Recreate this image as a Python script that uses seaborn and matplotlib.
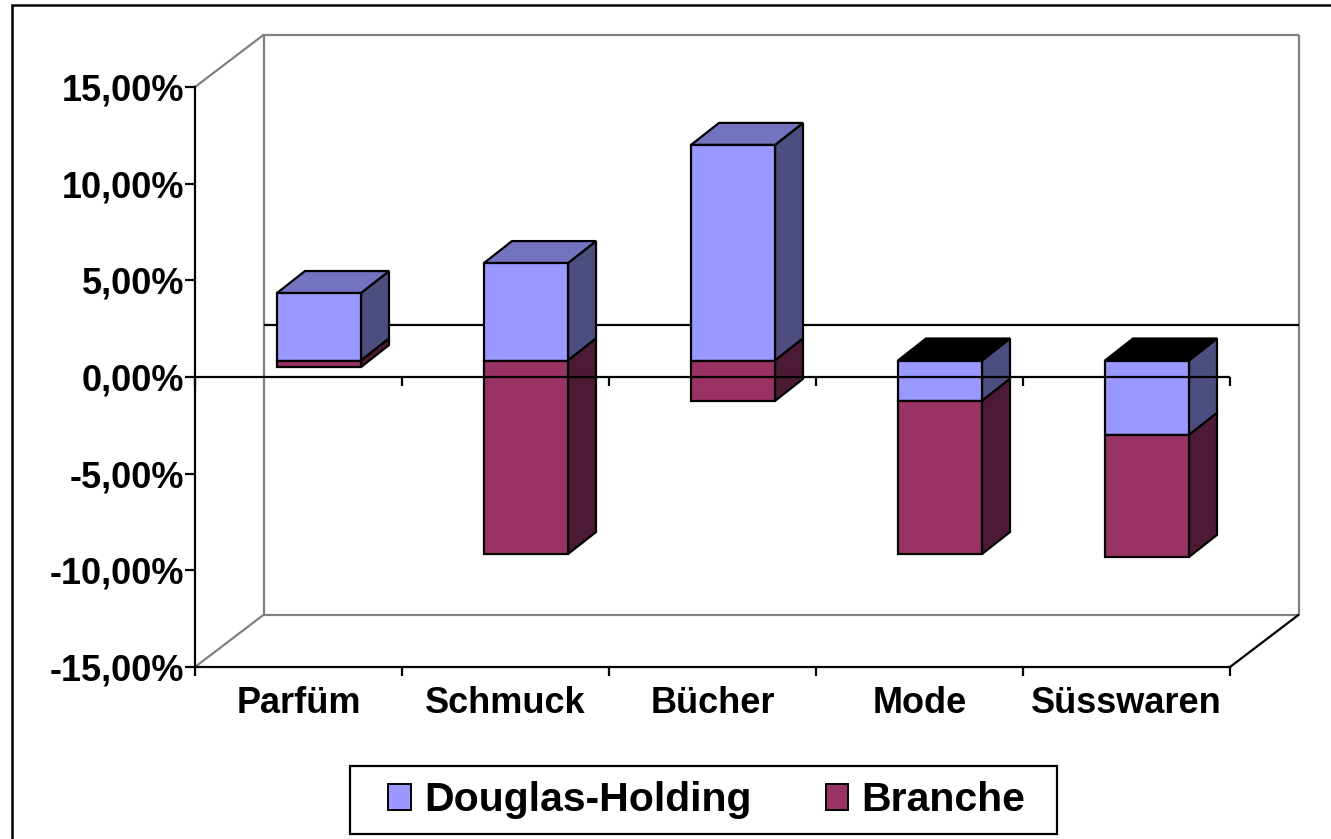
import numpy as np
import pandas as pd
import matplotlib
matplotlib.use("Agg")
import matplotlib.pyplot as plt
import matplotlib.transforms as mtransforms
from matplotlib.patches import Polygon, Patch, Rectangle
from matplotlib.ticker import FixedLocator, FuncFormatter
import seaborn as sns

# ---------------- data ----------------
categories = ["Parfüm", "Schmuck", "Bücher", "Mode", "Süsswaren"]
douglas = [3.49, 5.04, 11.15, -2.09, -3.85]      # %
branche = [-0.34, -10.01, -2.09, -7.92, -6.31]   # %
series_names = ["Douglas-Holding", "Branche"]
y_ticks = [-15, -10, -5, 0, 5, 10, 15]

# ---------------- style ----------------
sns.set_style("white")
plt.rcParams["font.family"] = ["Liberation Sans", "DejaVu Sans"]
plt.rcParams["font.weight"] = "bold"
plt.rcParams["text.color"] = "black"

col_front = {"Douglas-Holding": "#9999FF", "Branche": "#993366"}
col_side = {"Douglas-Holding": "#4D4D80", "Branche": "#4D1A33"}
col_top = {"Douglas-Holding": "#7373BF", "Branche": "#732650"}

W, H = 1331, 839
fig = plt.figure(figsize=(W / 100, H / 100), dpi=100)
# front plane of the 3-D box in pixels
L, R, T, B = 195, 1230, 87, 667
ax = fig.add_axes([L / W, 1 - B / H, (R - L) / W, (B - T) / H])
ax.set_xlim(-0.5, len(categories) - 0.5)
ax.set_ylim(-15, 15)

px_x = (R - L) / len(categories)   # pixels per category unit
px_y = (B - T) / 30.0              # pixels per percent

# depth offsets (pixels -> data units)
wall_dx, wall_dy = 69 / px_x, 52.5 / px_y
front_dx_px, front_dy_px = 20.5, 16.5
fdx, fdy = front_dx_px / px_x, front_dy_px / px_y
bdx, bdy = 28 / px_x, 22 / px_y
bar_w = 84 / px_x

# ---------------- stacking ----------------
d = np.array(douglas)
b = np.array(branche)
d_bottom = np.zeros_like(d)
b_bottom = np.where(np.sign(b) == np.sign(d), d, 0.0)

df_d = pd.DataFrame({"cat": categories, "val": d})
df_b = pd.DataFrame({"cat": categories, "val": b})

# ---------------- back wall & floor ----------------
grey = "#808080"
x0, x1 = -0.5, len(categories) - 0.5
lw = 1.6
def seg(p, q, c):
    ax.plot([p[0], q[0]], [p[1], q[1]], color=c, lw=lw, clip_on=False, zorder=1,
            solid_capstyle="butt")
seg((x0, 15), (x0 + wall_dx, 15 + wall_dy), grey)
seg((x0 + wall_dx, 15 + wall_dy), (x1 + wall_dx, 15 + wall_dy), grey)
seg((x1 + wall_dx, 15 + wall_dy), (x1 + wall_dx, -15 + wall_dy), grey)
seg((x0 + wall_dx, -15 + wall_dy), (x1 + wall_dx, -15 + wall_dy), grey)
seg((x0 + wall_dx, 15 + wall_dy), (x0 + wall_dx, -15 + wall_dy), grey)
seg((x0, -15), (x0 + wall_dx, -15 + wall_dy), grey)
seg((x1, -15), (x1 + wall_dx, -15 + wall_dy), "black")
seg((x0 + wall_dx, wall_dy), (x1 + wall_dx, wall_dy), "black")

# ---------------- bars: front faces via seaborn ----------------
n_before = len(ax.patches)
sns.barplot(data=df_d, x="cat", y="val", order=categories, bottom=d_bottom,
            color=col_front["Douglas-Holding"], saturation=1, width=bar_w,
            edgecolor="black", linewidth=1.6, errorbar=None, ax=ax, zorder=3)
sns.barplot(data=df_b, x="cat", y="val", order=categories, bottom=b_bottom,
            color=col_front["Branche"], saturation=1, width=bar_w,
            edgecolor="black", linewidth=1.6, errorbar=None, ax=ax, zorder=3)
ax.set_xlim(-0.5, len(categories) - 0.5)
ax.set_ylim(-15, 15)

shift = mtransforms.offset_copy(ax.transData, fig=fig, x=front_dx_px,
                                y=front_dy_px, units="dots")
for p in ax.patches[n_before:]:
    p.set_transform(shift)
    p.set_clip_on(False)
    p.set_zorder(3)

# ---------------- side and top faces ----------------
for i in range(len(categories)):
    xl = i + fdx - bar_w / 2
    xr = i + fdx + bar_w / 2
    segs = [("Douglas-Holding", d_bottom[i], d_bottom[i] + d[i]),
            ("Branche", b_bottom[i], b_bottom[i] + b[i])]
    for name, y0, y1 in segs:
        side = Polygon([(xr, y0 + fdy), (xr + bdx, y0 + fdy + bdy),
                        (xr + bdx, y1 + fdy + bdy), (xr, y1 + fdy)],
                       closed=True, facecolor=col_side[name], edgecolor="black",
                       lw=1.6, zorder=2, clip_on=False, joinstyle="miter")
        ax.add_patch(side)
    tops = [(name, max(y0, y1)) for name, y0, y1 in segs]
    top_name, yt = max(tops, key=lambda t: t[1])
    tc = col_top[top_name] if yt > 0 else "black"
    top = Polygon([(xl, yt + fdy), (xr, yt + fdy), (xr + bdx, yt + fdy + bdy),
                   (xl + bdx, yt + fdy + bdy)], closed=True, facecolor=tc,
                  edgecolor="black", lw=1.6, zorder=2, clip_on=False,
                  joinstyle="miter")
    ax.add_patch(top)

# ---------------- front zero line with ticks ----------------
bounds = np.arange(len(categories) + 1) - 0.5
ax.axhline(0, color="black", lw=1.6, zorder=5)
ax.plot(bounds, np.zeros_like(bounds), ls="none", marker=3, ms=6.5, mew=1.6,
        color="black", zorder=5, clip_on=False)

# ---------------- axes ----------------
for s in ["top", "right"]:
    ax.spines[s].set_visible(False)
for s in ["left", "bottom"]:
    ax.spines[s].set_color("black")
    ax.spines[s].set_linewidth(1.6)
    ax.spines[s].set_zorder(4)

ax.yaxis.set_major_locator(FixedLocator(y_ticks))
ax.yaxis.set_major_formatter(FuncFormatter(lambda v, p: f"{v:.2f}".replace(".", ",") + "%"))
ax.tick_params(axis="y", which="major", left=True, length=7.2, width=1.6,
               color="black", pad=0.5, labelsize=26, labelcolor="black")
ax.set_xticks(range(len(categories)))
ax.set_xticklabels(categories)
ax.xaxis.set_minor_locator(FixedLocator(bounds))
ax.tick_params(axis="x", which="major", bottom=True, length=0, pad=14,
               labelsize=26, labelcolor="black")
ax.tick_params(axis="x", which="minor", bottom=True, length=6.5, width=1.6,
               color="black", direction="out")
for lab in ax.get_xticklabels() + ax.get_yticklabels():
    lab.set_fontweight("bold")
ax.set_xlabel("")
ax.set_ylabel("")
ax.grid(False)
ax.set_facecolor("none")

# ---------------- legend ----------------
handles = [Patch(facecolor=col_front[n], edgecolor="black", lw=1.4) for n in series_names]
leg = fig.legend(handles, series_names, loc="center", ncol=2, frameon=False,
                 bbox_to_anchor=(707 / W, 1 - 800 / H),
                 prop={"family": ["Liberation Sans", "DejaVu Sans"], "weight": "bold", "size": 29.5},
                 handlelength=0.54, handleheight=0.6, handletextpad=0.34,
                 columnspacing=1.8, borderpad=0, labelcolor="black")
fig.add_artist(Rectangle((350 / W, 1 - 834 / H), (1057 - 350) / W, (834 - 766) / H,
                         transform=fig.transFigure, fill=False, edgecolor="black",
                         lw=1.6))

# outer chart border (left and top edges visible)
fig.add_artist(Rectangle((12 / W, -0.05), 1.1, 1.05 - 5 / H,
                         transform=fig.transFigure, fill=False, edgecolor="black",
                         lw=1.8))

fig.savefig("out.png", dpi=100, facecolor="white")
